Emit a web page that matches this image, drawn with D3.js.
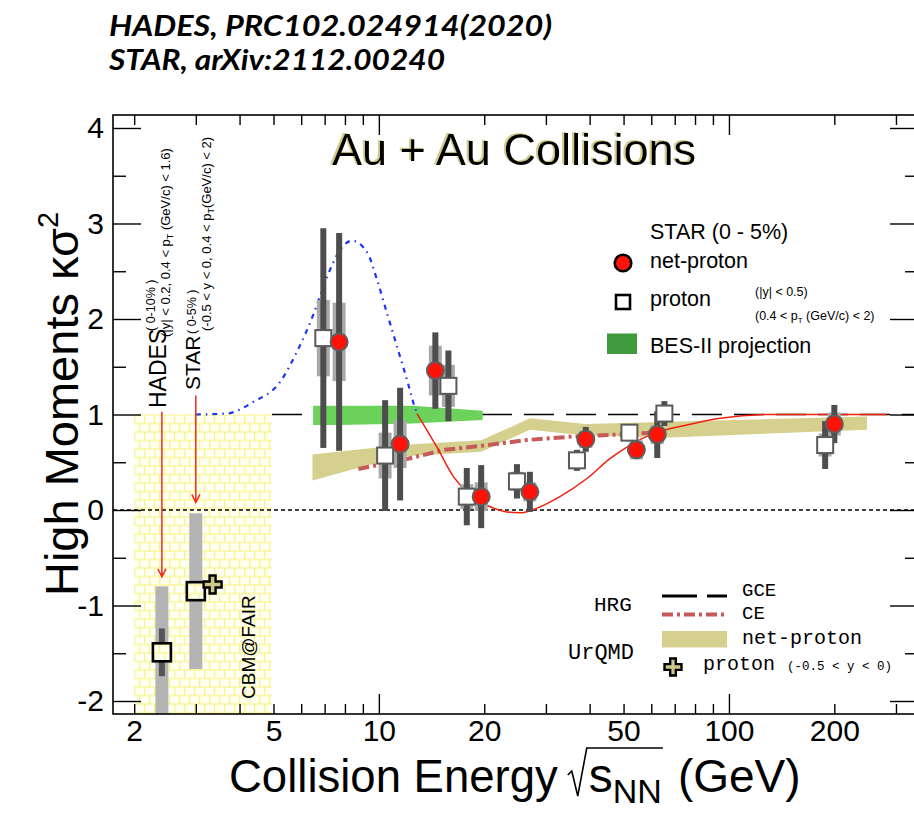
<!DOCTYPE html>
<html>
<head>
<meta charset="utf-8">
<script src="https://cdn.jsdelivr.net/npm/d3@7"></script>
<style>
  body { margin: 0; background: #ffffff; }
  svg { display: block; }
</style>
</head>
<body>
<svg id="chart" width="914" height="813"></svg>
<script>
// ---------- STAR Au+Au (0-5%) ----------
const starEnergy      = [7.7, 11.5, 14.5, 19.6, 27, 39, 54.4, 62.4, 200];
const netProton       = [1.76, 0.69, 1.46, 0.14, 0.19, 0.74, 0.63, 0.79, 0.90];
const netProtonStat   = [1.14, 0.59, 0.40, 0.33, 0.21, 0.13, 0.08, 0.245, 0.20];
const netProtonSys    = [0.41, 0.25, 0.26, 0.15, 0.10, 0.09, 0.10, 0.10, 0.12];
// proton markers are drawn slightly beside the net-proton ones
const protonPlotEnergy = [6.94, 10.42, 15.8, 17.83, 24.8, 36.8, 51.96, 65.4, 188.3];
const proton          = [1.80, 0.57, 1.30, 0.14, 0.30, 0.52, 0.81, 1.01, 0.68];
const protonStat      = [1.15, 0.58, 0.37, 0.30, 0.18, 0.11, 0.06, 0.13, 0.25];
const protonSys       = [0.40, 0.24, 0.22, 0.13, 0.10, 0.08, 0.06, 0.08, 0.12];

// ---------- fixed target ----------
const hadesEnergy = [2.4];
const hadesValue  = [-1.49];
const hadesStat   = [0.25];
const hadesSys    = [0.69];
const star3Energy = [3.0];
const star3Value  = [-0.85];
const star3Sys    = [0.815];
const urqmdProtonEnergy = [3.35];
const urqmdProtonValue  = [-0.78];

// ---------- BES-II projection band ----------
const besEnergy = [6.49, 7.7, 12.5, 19.8];
const besLow    = [0.89, 0.89, 0.905, 0.942];
const besHigh   = [1.092, 1.092, 1.092, 1.04];

// ---------- UrQMD net-proton band ----------
const urqmdEnergy = [6.46, 11.5, 19.6, 27, 39, 68, 248];
const urqmdLow    = [0.31, 0.56, 0.61, 0.84, 0.78, 0.76, 0.84];
const urqmdHigh   = [0.58, 0.68, 0.73, 0.96, 0.90, 0.925, 0.98];

// ---------- HRG canonical ensemble ----------
const ceEnergy = [8.74, 12.01, 15.44, 19.45, 26.45, 36.02, 48.9, 60.8, 64.8];
const ceValue  = [0.43, 0.534, 0.63, 0.67, 0.733, 0.77, 0.79, 0.81, 0.81];

// ---------- expectation curve (dash-dot rise, solid fall/recovery) ----------
const peakEnergy = [3.0, 3.68, 4.37, 5.22, 5.84, 6.49, 7.11, 7.74, 8.38, 9.25, 9.88, 10.55, 11.27, 12.04, 12.69, 12.85];
const peakValue  = [1.0, 1.01, 1.13, 1.34, 1.66, 2.04, 2.44, 2.72, 2.82, 2.70, 2.41, 2.06, 1.71, 1.36, 1.065, 1.01];
const dipEnergy  = [12.85, 14.64, 16.33, 18.22, 20.34, 23.2, 25.3, 28.3, 32.9, 39.3, 45.8, 52.2, 60.8, 75.8, 94.4, 131, 282];
const dipValue   = [1.01, 0.66, 0.35, 0.157, 0.05, -0.02, -0.03, 0.02, 0.14, 0.33, 0.54, 0.68, 0.80, 0.89, 0.96, 1.0, 1.0];

// ---------- CBM@FAIR range ----------
const cbmEnergy = [2.0, 4.95];

// ---------- axes ----------
const xLabelTicks  = [2, 5, 10, 20, 50, 100, 200];
const xDecadeTicks = [10, 100];
const xMinorTicks  = [2, 3, 4, 5, 6, 7, 8, 9, 20, 30, 40, 50, 60, 70, 80, 90, 200, 300];
const yMajorTicks  = [-2, -1, 0, 1, 2, 3, 4];
const yMinorTicks  = [-1.5, -0.5, 0.5, 1.5, 2.5, 3.5];

const SANS = "'Liberation Sans', Arial, Helvetica, sans-serif";
const MONO = "'Liberation Mono', 'Courier New', monospace";

const svg = d3.select("#chart");
const plot = { left: 113, right: 915, top: 115, bottom: 714 };
const x = d3.scaleLog().domain([1.74, 340]).range([plot.left, plot.right]);
const y = d3.scaleLinear().domain([-2.136, 4.136]).range([plot.bottom, plot.top]);

const defs = svg.append("defs");
defs.append("clipPath").attr("id", "plotClip").append("rect")
  .attr("x", plot.left).attr("y", plot.top)
  .attr("width", plot.right - plot.left).attr("height", plot.bottom - plot.top);

const grid = defs.append("pattern").attr("id", "cbmGrid")
  .attr("patternUnits", "userSpaceOnUse")
  .attr("x", x(cbmEnergy[0])).attr("y", y(1))
  .attr("width", 10).attr("height", 17);
grid.append("rect").attr("width", 10).attr("height", 17).attr("fill", "#fffff2");
grid.append("path")
  .attr("d", "M0,0.5H10M0,9H10M0.5,0V8.5M5.5,8.5V17")
  .attr("stroke", "#f7f27a").attr("stroke-width", 1.1).attr("fill", "none");

// khaki shadow for the plot title
const shadow = defs.append("filter").attr("id", "titleShadow")
  .attr("x", "-5%").attr("y", "-20%").attr("width", "110%").attr("height", "140%");
shadow.append("feOffset").attr("in", "SourceAlpha").attr("dx", -2).attr("dy", -1.5).attr("result", "off");
shadow.append("feFlood").attr("flood-color", "#d5cc8c").attr("result", "col");
shadow.append("feComposite").attr("in", "col").attr("in2", "off").attr("operator", "in").attr("result", "sh");
const merge = shadow.append("feMerge");
merge.append("feMergeNode").attr("in", "sh");
merge.append("feMergeNode").attr("in", "SourceGraphic");

const g = svg.append("g").attr("clip-path", "url(#plotClip)");

// CBM@FAIR region
g.append("rect")
  .attr("x", x(cbmEnergy[0])).attr("y", y(1))
  .attr("width", x(cbmEnergy[1]) - x(cbmEnergy[0]))
  .attr("height", plot.bottom - y(1))
  .attr("fill", "url(#cbmGrid)");

// reference lines
g.append("line")
  .attr("x1", plot.left).attr("x2", plot.right)
  .attr("y1", y(0)).attr("y2", y(0))
  .attr("stroke", "#000").attr("stroke-width", 1.3).attr("stroke-dasharray", "4,3");
g.append("line")
  .attr("x1", x(cbmEnergy[1])).attr("x2", plot.right)
  .attr("y1", y(1)).attr("y2", y(1))
  .attr("stroke", "#000").attr("stroke-width", 1.6).attr("stroke-dasharray", "30,12");

// UrQMD net-proton band
const urqmdRows = urqmdEnergy.map((e, i) => ({ e, lo: urqmdLow[i], hi: urqmdHigh[i] }));
g.append("path")
  .attr("d", d3.area().x(d => x(d.e)).y0(d => y(d.lo)).y1(d => y(d.hi))(urqmdRows))
  .attr("fill", "#d6d08e");

// BES-II projection band
const besRows = besEnergy.map((e, i) => ({ e, lo: besLow[i], hi: besHigh[i] }));
g.append("path")
  .attr("d", d3.area().x(d => x(d.e)).y0(d => y(d.lo)).y1(d => y(d.hi))(besRows))
  .attr("fill", "#6cd25c");

// HRG CE
const ceRows = ceEnergy.map((e, i) => ({ e, v: ceValue[i] }));
g.append("path")
  .attr("d", d3.line().x(d => x(d.e)).y(d => y(d.v))(ceRows))
  .attr("fill", "none").attr("stroke", "#c65a5a").attr("stroke-width", 4)
  .attr("stroke-dasharray", "11,4,3,4");

// expectation curve
const curve = d3.line().x(d => x(d.e)).y(d => y(d.v)).curve(d3.curveMonotoneX);
g.append("path")
  .attr("d", curve(peakEnergy.map((e, i) => ({ e, v: peakValue[i] }))))
  .attr("fill", "none").attr("stroke", "#1b36f5").attr("stroke-width", 2.2)
  .attr("stroke-dasharray", "5,5,1.5,5");
g.append("path")
  .attr("d", curve(dipEnergy.map((e, i) => ({ e, v: dipValue[i] }))))
  .attr("fill", "none").attr("stroke", "#f02010").attr("stroke-width", 1.5);

// arrows from the acceptance labels
function arrow(e, v0, v1) {
  const px = x(e), y0 = y(v0), y1 = y(v1);
  g.append("path")
    .attr("d", `M${px},${y0}V${y1}M${px - 4},${y1 - 8}L${px},${y1}L${px + 4},${y1 - 8}`)
    .attr("fill", "none").attr("stroke", "#f22a1e").attr("stroke-width", 1.5);
}
arrow(hadesEnergy[0], 1.03, -0.70);
arrow(star3Energy[0], 1.20, 0.08);

// fixed-target points
const SYS_W = 13, STAT_W = 6;
function sysBox(e, v, err, color) {
  g.append("rect")
    .attr("x", x(e) - SYS_W / 2).attr("width", SYS_W)
    .attr("y", y(v + err)).attr("height", y(v - err) - y(v + err))
    .attr("fill", color);
}
function statBar(e, v, err, color) {
  g.append("rect")
    .attr("x", x(e) - STAT_W / 2).attr("width", STAT_W)
    .attr("y", y(v + err)).attr("height", y(v - err) - y(v + err))
    .attr("fill", color);
}
sysBox(hadesEnergy[0], hadesValue[0], hadesSys[0], "#b4b4b4");
statBar(hadesEnergy[0], hadesValue[0], hadesStat[0], "#555555");
sysBox(star3Energy[0], star3Value[0], star3Sys[0], "#b4b4b4");
[[hadesEnergy[0], hadesValue[0]], [star3Energy[0], star3Value[0]]].forEach(([e, v]) => {
  g.append("rect")
    .attr("x", x(e) - 9).attr("y", y(v) - 9).attr("width", 18).attr("height", 18)
    .attr("fill", "url(#cbmGrid)").attr("stroke", "#000").attr("stroke-width", 2.6);
});
g.append("path")
  .attr("transform", `translate(${x(urqmdProtonEnergy[0])},${y(urqmdProtonValue[0])})`)
  .attr("d", d3.symbol(d3.symbolCross, 180)())
  .attr("fill", "#cfc78a").attr("stroke", "#000").attr("stroke-width", 2.4);

// STAR BES points
starEnergy.forEach((e, i) => {
  sysBox(protonPlotEnergy[i], proton[i], protonSys[i], "#a9a9a9");
  sysBox(e, netProton[i], netProtonSys[i], "#a9a9a9");
});
starEnergy.forEach((e, i) => {
  statBar(protonPlotEnergy[i], proton[i], protonStat[i], "#4d4d4d");
  statBar(e, netProton[i], netProtonStat[i], "#4d4d4d");
});
starEnergy.forEach((e, i) => {
  g.append("rect")
    .attr("x", x(protonPlotEnergy[i]) - 8).attr("y", y(proton[i]) - 8)
    .attr("width", 16).attr("height", 16)
    .attr("fill", "#ffffff").attr("stroke", "#5a5a5a").attr("stroke-width", 2);
});
starEnergy.forEach((e, i) => {
  g.append("circle")
    .attr("cx", x(e)).attr("cy", y(netProton[i])).attr("r", 8.5)
    .attr("fill", "#ff1208").attr("stroke", "#5e5e5e").attr("stroke-width", 2);
});

// ---------- axes ----------
function styleAxis(sel) {
  sel.select(".domain").remove();
  sel.selectAll(".tick line").attr("stroke", "#000").attr("stroke-width", 1.4);
}
const plainNumber = d => String(d);
const axesG = svg.append("g");
// bottom
axesG.append("g").attr("transform", `translate(0,${plot.bottom})`)
  .call(d3.axisBottom(x).tickValues(xMinorTicks).tickSizeInner(-10).tickSizeOuter(0).tickFormat(""))
  .call(styleAxis);
axesG.append("g").attr("transform", `translate(0,${plot.bottom})`)
  .call(d3.axisBottom(x).tickValues(xDecadeTicks).tickSizeInner(-20).tickSizeOuter(0).tickFormat(""))
  .call(styleAxis);
const xLab = axesG.append("g").attr("transform", `translate(0,${plot.bottom})`)
  .call(d3.axisBottom(x).tickValues(xLabelTicks).tickSize(0).tickPadding(6).tickFormat(plainNumber))
  .call(styleAxis);
xLab.selectAll("text").attr("font-family", SANS).attr("font-size", 30).attr("fill", "#000");
// top
axesG.append("g").attr("transform", `translate(0,${plot.top})`)
  .call(d3.axisTop(x).tickValues(xMinorTicks).tickSizeInner(-10).tickSizeOuter(0).tickFormat(""))
  .call(styleAxis);
axesG.append("g").attr("transform", `translate(0,${plot.top})`)
  .call(d3.axisTop(x).tickValues(xDecadeTicks).tickSizeInner(-20).tickSizeOuter(0).tickFormat(""))
  .call(styleAxis);
// left
axesG.append("g").attr("transform", `translate(${plot.left},0)`)
  .call(d3.axisLeft(y).tickValues(yMinorTicks).tickSizeInner(-13).tickSizeOuter(0).tickFormat(""))
  .call(styleAxis);
axesG.append("g").attr("transform", `translate(${plot.left},0)`)
  .call(d3.axisLeft(y).tickValues(yMajorTicks).tickSizeInner(-28).tickSizeOuter(0).tickFormat(""))
  .call(styleAxis);
const yLab = axesG.append("g").attr("transform", `translate(${plot.left},0)`)
  .call(d3.axisLeft(y).tickValues(yMajorTicks).tickSize(0).tickPadding(9).tickFormat(plainNumber))
  .call(styleAxis);
yLab.selectAll("text").attr("font-family", SANS).attr("font-size", 30).attr("fill", "#000");
// right
axesG.append("g").attr("transform", `translate(${plot.right},0)`)
  .call(d3.axisRight(y).tickValues(yMinorTicks).tickSizeInner(-10).tickSizeOuter(0).tickFormat(""))
  .call(styleAxis);
axesG.append("g").attr("transform", `translate(${plot.right},0)`)
  .call(d3.axisRight(y).tickValues(yMajorTicks).tickSizeInner(-25).tickSizeOuter(0).tickFormat(""))
  .call(styleAxis);
// frame
axesG.append("rect")
  .attr("x", plot.left).attr("y", plot.top)
  .attr("width", plot.right - plot.left).attr("height", plot.bottom - plot.top)
  .attr("fill", "none").attr("stroke", "#000").attr("stroke-width", 1.6);

// ---------- axis titles ----------
const yTitle = svg.append("text")
  .attr("transform", "translate(78,404) rotate(-90)")
  .attr("text-anchor", "middle")
  .attr("font-family", SANS).attr("font-size", 47).attr("fill", "#000");
yTitle.append("tspan").text("High Moments κσ");
yTitle.append("tspan").attr("dy", -20).attr("font-size", 29).text("2");

const xt = svg.append("g").attr("font-family", SANS).attr("fill", "#000");
const xtBase = 792;
let cx = 229;
const tA = xt.append("text").attr("x", cx).attr("y", xtBase).attr("font-size", 45.5).text("Collision Energy");
cx += tA.node().getComputedTextLength() + 10;
const radX = cx;
cx += 21;
const tS = xt.append("text").attr("x", cx).attr("y", xtBase).attr("font-size", 48).text("s");
cx += tS.node().getComputedTextLength();
const tNN = xt.append("text").attr("x", cx).attr("y", xtBase + 11).attr("font-size", 34).text("NN");
cx += tNN.node().getComputedTextLength() + 1;
xt.append("path")
  .attr("d", `M${radX},${xtBase - 17}L${radX + 4},${xtBase - 21}L${radX + 10},${xtBase + 4}L${radX + 19},${xtBase - 44}H${cx}`)
  .attr("fill", "none").attr("stroke", "#000").attr("stroke-width", 1.6);
xt.append("text").attr("x", cx + 15).attr("y", xtBase).attr("font-size", 46).text("(GeV)");

// ---------- header ----------
const head = svg.append("g")
  .attr("font-family", "Lato, 'Open Sans', sans-serif")
  .attr("font-weight", "bold").attr("font-style", "italic").attr("font-size", 28).attr("fill", "#000");
head.append("text").attr("x", 109).attr("y", 36)
  .attr("textLength", 443).attr("lengthAdjust", "spacingAndGlyphs")
  .text("HADES, PRC102.024914(2020)");
head.append("text").attr("x", 109).attr("y", 70)
  .attr("textLength", 336).attr("lengthAdjust", "spacingAndGlyphs")
  .text("STAR, arXiv:2112.00240");

// ---------- plot title with soft shadow ----------
svg.append("text").attr("x", 332).attr("y", 165)
  .attr("font-family", SANS).attr("font-size", 45).attr("fill", "#000")
  .attr("filter", "url(#titleShadow)")
  .text("Au + Au Collisions");

// ---------- rotated acceptance labels ----------
function vtext(px, py, size, parts) {
  const t = svg.append("text")
    .attr("transform", `translate(${px},${py}) rotate(-90)`)
    .attr("font-family", SANS).attr("font-size", size).attr("fill", "#000");
  parts.forEach(p => {
    const s = t.append("tspan").text(p.t);
    if (p.dy) s.attr("dy", p.dy);
    if (p.size) s.attr("font-size", p.size);
  });
  return t;
}
vtext(166, 408, 23, [{ t: "HADES" }]);
vtext(155, 331, 12.5, [{ t: "( 0-10% )" }]);
vtext(170, 337, 13, [{ t: "(|y| < 0.2, 0.4 < p" }, { t: "T", dy: 3, size: 9 }, { t: " (GeV/c) < 1.6)", dy: -3 }]);
vtext(200, 390, 21, [{ t: "STAR" }]);
vtext(196, 334, 12.5, [{ t: "( 0-5% )" }]);
vtext(211, 331, 13, [{ t: "(-0.5 < y < 0, 0.4 < p" }, { t: "T", dy: 3, size: 9 }, { t: "(GeV/c) < 2)", dy: -3 }]);
vtext(255, 699, 19, [{ t: "CBM@FAIR" }]);

// ---------- STAR legend ----------
const lg = svg.append("g").attr("font-family", SANS).attr("fill", "#000");
lg.append("text").attr("x", 650).attr("y", 239).attr("font-size", 21.5).text("STAR (0 - 5%)");
lg.append("circle").attr("cx", 623).attr("cy", 263).attr("r", 8.3)
  .attr("fill", "#ff1208").attr("stroke", "#000").attr("stroke-width", 2.6);
lg.append("text").attr("x", 650).attr("y", 268).attr("font-size", 21.5).text("net-proton");
lg.append("rect").attr("x", 616).attr("y", 295).attr("width", 14).attr("height", 14)
  .attr("fill", "#fff").attr("stroke", "#000").attr("stroke-width", 2.6);
lg.append("text").attr("x", 650).attr("y", 306).attr("font-size", 21.5).text("proton");
lg.append("text").attr("x", 755).attr("y", 296).attr("font-size", 12.5).text("(|y| < 0.5)");
const ptLab = lg.append("text").attr("x", 755).attr("y", 320).attr("font-size", 12.5);
ptLab.append("tspan").text("(0.4 < p");
ptLab.append("tspan").attr("dy", 3).attr("font-size", 8).text("T");
ptLab.append("tspan").attr("dy", -3).text(" (GeV/c) < 2)");
lg.append("rect").attr("x", 607).attr("y", 333.5).attr("width", 30).attr("height", 20.5).attr("fill", "#3f9a3b");
lg.append("text").attr("x", 650).attr("y", 353).attr("font-size", 21.5).text("BES-II projection");

// ---------- model legend ----------
const ml = svg.append("g").attr("font-family", MONO).attr("fill", "#000");
ml.append("text").attr("x", 594).attr("y", 611).attr("font-size", 21).text("HRG");
ml.append("text").attr("x", 568).attr("y", 659).attr("font-size", 22).text("UrQMD");
ml.append("line").attr("x1", 662).attr("x2", 727).attr("y1", 596).attr("y2", 596)
  .attr("stroke", "#000").attr("stroke-width", 3).attr("stroke-dasharray", "35,10");
ml.append("text").attr("x", 742).attr("y", 596).attr("font-size", 19).text("GCE");
ml.append("line").attr("x1", 662).attr("x2", 727).attr("y1", 614.5).attr("y2", 614.5)
  .attr("stroke", "#c65a5a").attr("stroke-width", 4).attr("stroke-dasharray", "11,4,3,4");
ml.append("text").attr("x", 742).attr("y", 619).attr("font-size", 19).text("CE");
ml.append("rect").attr("x", 662).attr("y", 631).attr("width", 65).attr("height", 16.5).attr("fill", "#d6d08e");
ml.append("text").attr("x", 742).attr("y", 644).attr("font-size", 20).text("net-proton");
ml.append("path").attr("transform", "translate(673,667)")
  .attr("d", d3.symbol(d3.symbolCross, 160)())
  .attr("fill", "#cfc78a").attr("stroke", "#000").attr("stroke-width", 2.4);
ml.append("text").attr("x", 703).attr("y", 670).attr("font-size", 20).text("proton");
ml.append("text").attr("x", 787).attr("y", 670).attr("font-size", 12.5).text("(-0.5 < y < 0)");
</script>
</body>
</html>
